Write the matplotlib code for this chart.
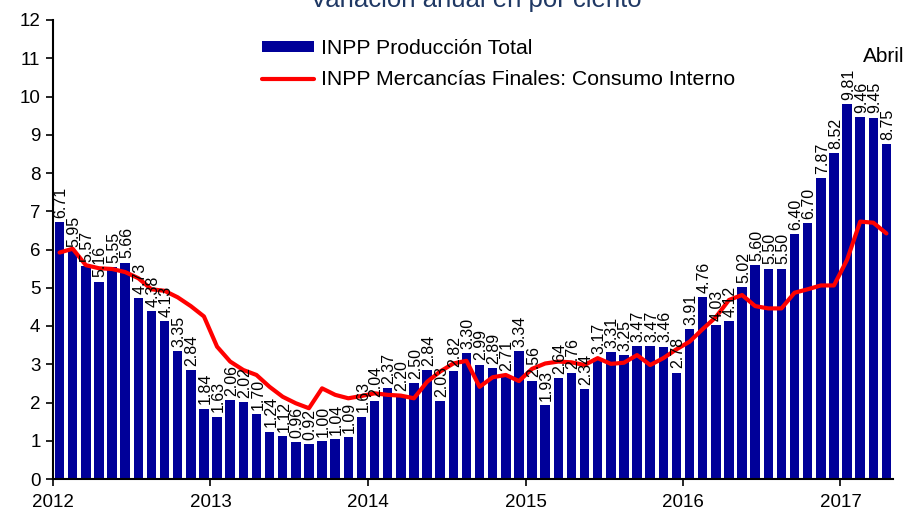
import matplotlib
matplotlib.use("Agg")
import matplotlib.pyplot as plt
import numpy as np

plt.rcParams['font.family'] = ['Liberation Sans', 'DejaVu Sans']

# Monthly data, Jan 2012 - Apr 2017
months = [f"{y}-{m:02d}" for y in range(2012, 2018) for m in range(1, 13)][:64]

produccion_total = [
    6.71, 5.95, 5.57, 5.16, 5.55, 5.66, 4.73, 4.38, 4.13, 3.35, 2.84, 1.84,   # 2012
    1.63, 2.06, 2.02, 1.70, 1.24, 1.12, 0.96, 0.92, 1.00, 1.04, 1.09, 1.63,   # 2013
    2.04, 2.37, 2.20, 2.50, 2.84, 2.03, 2.82, 3.30, 2.99, 2.89, 2.71, 3.34,   # 2014
    2.56, 1.93, 2.64, 2.76, 2.34, 3.17, 3.31, 3.25, 3.47, 3.47, 3.46, 2.78,   # 2015
    3.91, 4.76, 4.03, 4.12, 5.02, 5.60, 5.50, 5.50, 6.40, 6.70, 7.87, 8.52,   # 2016
    9.81, 9.46, 9.45, 8.75,                                                   # 2017
]

consumo_interno = [
    5.92, 6.02, 5.59, 5.51, 5.49, 5.41, 5.25, 4.96, 4.92, 4.75, 4.52, 4.25,
    3.46, 3.07, 2.85, 2.72, 2.41, 2.15, 1.98, 1.85, 2.37, 2.20, 2.11, 2.17,
    2.24, 2.20, 2.18, 2.11, 2.54, 2.81, 3.02, 3.09, 2.41, 2.66, 2.72, 2.56,
    2.88, 3.02, 3.07, 3.05, 2.98, 3.16, 3.01, 3.04, 3.24, 2.98, 3.16, 3.39,
    3.59, 3.92, 4.23, 4.68, 4.81, 4.52, 4.46, 4.46, 4.87, 4.96, 5.06, 5.06,
    5.73, 6.73, 6.70, 6.42,
]

year_labels = ["2012", "2013", "2014", "2015", "2016", "2017"]
y_ticks = list(range(0, 13))

label_prod = "INPP Producción Total"
label_cons = "INPP Mercancías Finales: Consumo Interno"
title = "Variación anual en por ciento"
last_month_note = "Abril"

W, H = 908, 514
fig = plt.figure(figsize=(W / 100, H / 100), dpi=100)
ax = fig.add_axes([53 / W, 1 - 479 / H, (893 - 53) / W, (479 - 20) / H])

x = np.arange(len(produccion_total))
bars = ax.bar(x, produccion_total, width=0.72, color='#000099', label=label_prod, zorder=2)
line, = ax.plot(x, consumo_interno, color='#FF0000', lw=3, label=label_cons, zorder=3,
                solid_joinstyle='round', solid_capstyle='round')

for xi, v in zip(x, produccion_total):
    ax.annotate(f"{v:.2f}", (xi, v), xytext=(1, 3), textcoords='offset points',
                rotation=90, ha='center', va='bottom', fontsize=11.5, color='black', zorder=4)

ax.set_xlim(-0.5, len(produccion_total) - 0.5)
ax.set_ylim(0, 12)
ax.set_yticks(y_ticks)
ax.set_yticklabels([str(t) for t in y_ticks], fontsize=13.5)
year_pos = [12 * k - 0.5 for k in range(len(year_labels))]
ax.set_xticks(year_pos)
ax.set_xticklabels(year_labels, fontsize=13.5)
ax.tick_params(axis='both', direction='out', length=5, width=1.2, color='black')
ax.tick_params(axis='x', pad=6)
ax.tick_params(axis='y', pad=4)

for s in ['top', 'right']:
    ax.spines[s].set_visible(False)
for s in ['left', 'bottom']:
    ax.spines[s].set_linewidth(1.5)
    ax.spines[s].set_color('black')

fs_leg = 15.3
leg = fig.legend(handles=[bars, line], labels=[label_prod, label_cons],
                 loc='upper left', bbox_to_anchor=(262 / W, 1 - 39 / H),
                 frameon=False, fontsize=fs_leg, handlelength=2.45, handleheight=0.42,
                 handletextpad=0.33, labelspacing=0.58, borderpad=0, borderaxespad=0)

fig.text(863 / W, 1 - 56 / H, last_month_note, fontsize=15, ha='left', va='center')

fig.text(476 / W, 1 - 7 / H, title, fontsize=18.5, color='#1F3864',
         ha='center', va='baseline')

fig.savefig("out.png", dpi=100)
